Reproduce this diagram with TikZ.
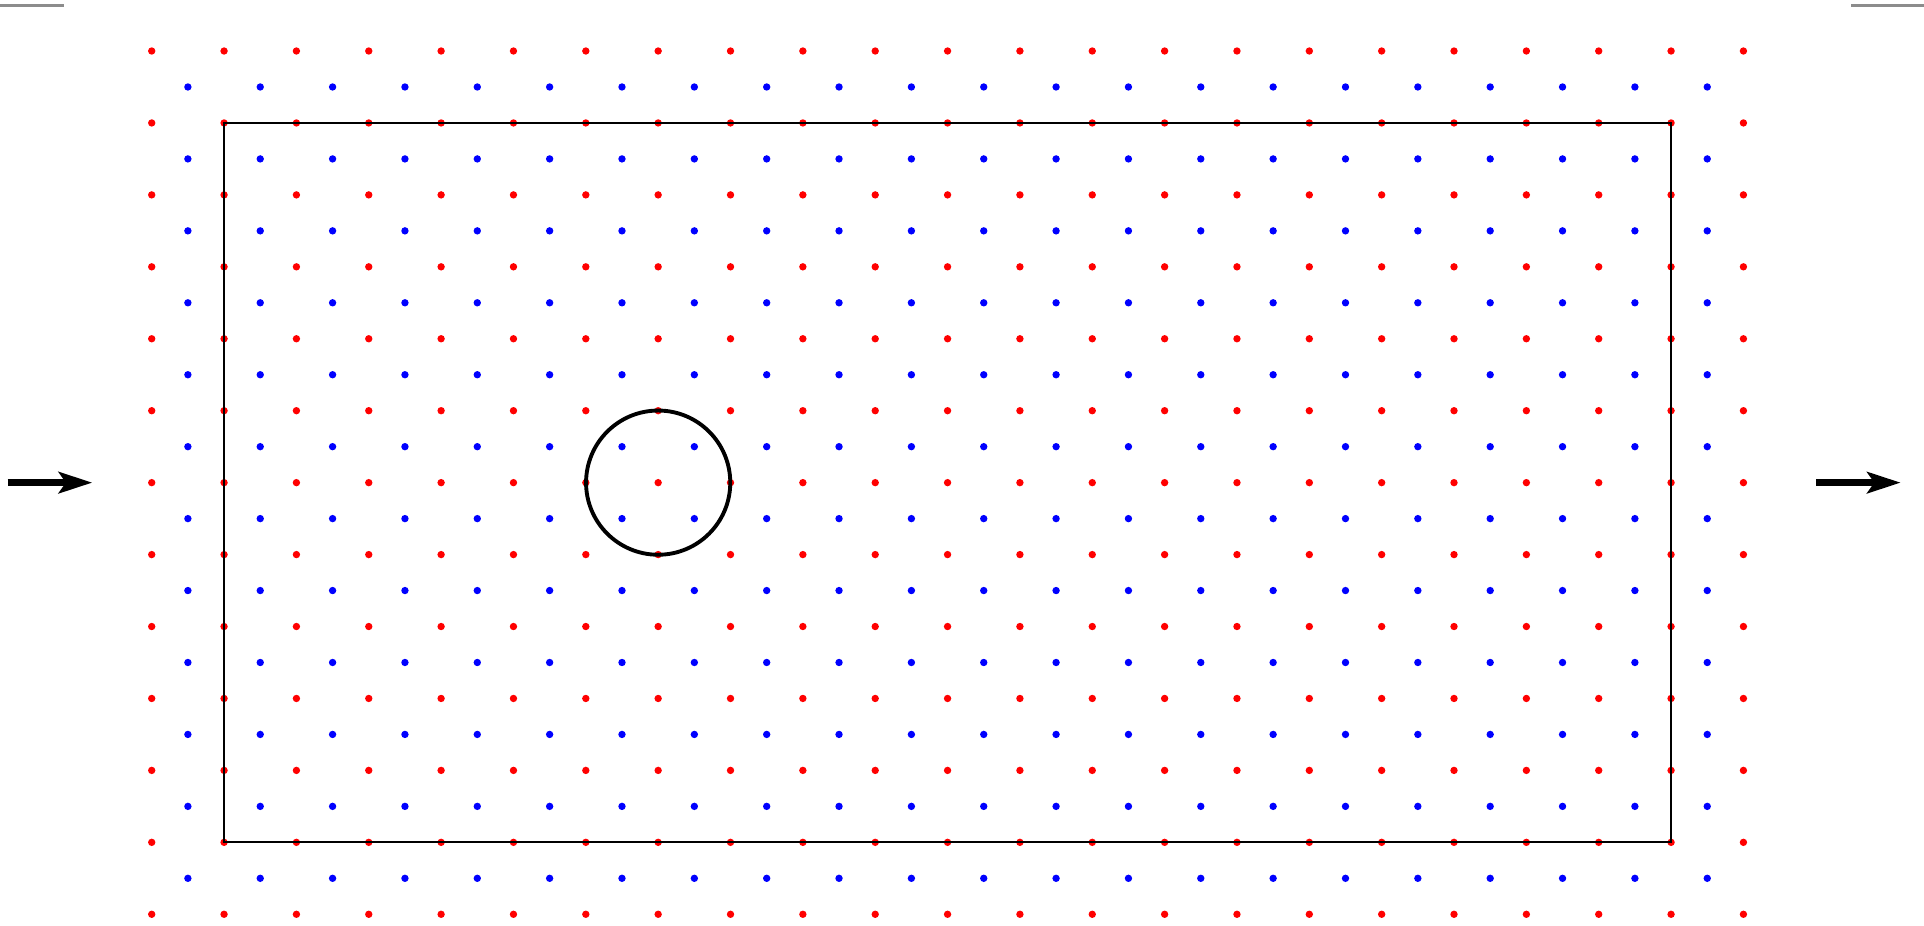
\documentclass[tikz,border=0pt]{standalone}
\usepackage{tikz}
\usetikzlibrary{arrows.meta}

\begin{document}
\begin{tikzpicture}[
    x=1.447cm, y=1.4388cm,
    >={Stealth[length=19pt, width=12pt, inset=4pt]},
    reddot/.style={fill=red},
    bluedot/.style={fill=blue},
    flowarrow/.style={->, line width=3.8pt},
    cornerline/.style={line width=1.5pt, draw=black!45}
]

\useasboundingbox (-2.097,-0.1626) rectangle (24.496,12.709);

%======================
% Coordinates
%======================

\coordinate (C)   at (7,6);
\coordinate (Lin) at (-1.990,6);
\coordinate (Lto) at (-0.821,6);
\coordinate (Rin) at (23.003,6);
\coordinate (Rto) at (24.174,6);

%======================
% Lattice points
%======================

% Red lattice
\foreach \i in {0,...,22}
  \foreach \j in {0,...,12}
    \fill[reddot] (\i,\j) circle (2.1pt);

% Blue lattice (shifted by half a cell)
\foreach \i in {0,...,21}
  \foreach \j in {0,...,11}
    \fill[bluedot] (\i+0.5,\j+0.5) circle (2.1pt);

%======================
% Domain and obstacle
%======================

\draw[line width=1.2pt] (1,1) rectangle (21,11);
\draw[line width=2.2pt] (C) circle (1.442cm);

%======================
% Inflow / outflow
%======================

\draw[flowarrow] (Lin) -- (Lto);
\draw[flowarrow] (Rin) -- (Rto);

%======================
% Corner marks
%======================

\draw[cornerline] (-2.097,12.630) -- (-1.212,12.630);
\draw[cornerline] (23.487,12.630) -- (24.496,12.630);

\end{tikzpicture}
\end{document}
